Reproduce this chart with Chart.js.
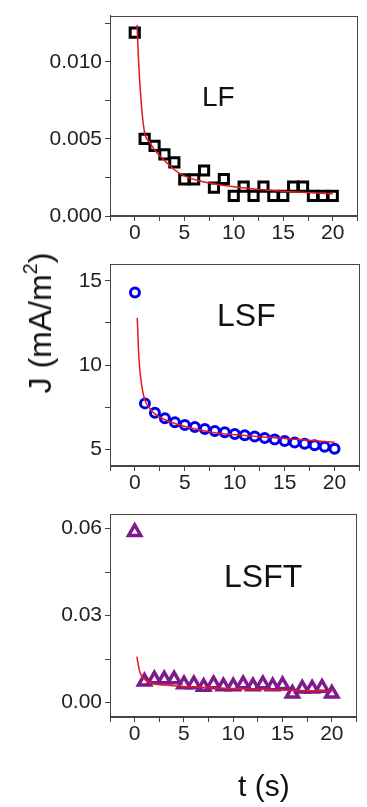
<!DOCTYPE html>
<html>
<head>
<meta charset="utf-8">
<script src="https://cdn.jsdelivr.net/npm/chart.js@4.4.0/dist/chart.umd.min.js"></script>
<style>
  html, body { margin: 0; padding: 0; background: #fff; }
  body { width: 367px; height: 807px; position: relative; overflow: hidden; font-family: "Liberation Sans", Arial, sans-serif; color: #111; }
  canvas { position: absolute; left: 0; }
  .lbl { position: absolute; line-height: 1; white-space: nowrap; }
</style>
</head>
<body>
<canvas id="lf" width="367" height="248" style="top:0"></canvas>
<canvas id="lsf" width="367" height="250" style="top:248px"></canvas>
<canvas id="lsft" width="367" height="309" style="top:498px"></canvas>

<div class="lbl" style="left:202px;top:83px;font-size:28px">LF</div>
<div class="lbl" style="left:217px;top:299px;font-size:32px">LSF</div>
<div class="lbl" style="left:224px;top:560px;font-size:32px">LSFT</div>
<div class="lbl" style="left:38px;top:323px;font-size:32px;transform:translate(-50%,-50%) rotate(-90deg)">J (mA/m<sup style="font-size:20px;vertical-align:14px">2</sup>)</div>
<div class="lbl" style="left:238px;top:771px;font-size:30px">t (s)</div>

<script>
// measurement times (s)
const time = [0, 1, 2, 3, 4, 5, 6, 7, 8, 9, 10, 11, 12, 13, 14, 15, 16, 17, 18, 19, 20];

// current density, mA/m2
const lfJ = [0.0119, 0.0050, 0.00455, 0.0040, 0.00348, 0.00237, 0.00237, 0.00295, 0.00184, 0.0024,
  0.0013, 0.0019, 0.0013, 0.0019, 0.0013, 0.0013, 0.0019, 0.0019, 0.0013, 0.0013, 0.0013];
const lsfJ = [14.31, 7.72, 7.17, 6.83, 6.6, 6.44, 6.32, 6.2, 6.08, 6.0,
  5.9, 5.82, 5.75, 5.66, 5.57, 5.48, 5.4, 5.32, 5.23, 5.15, 5.03];
const lsftJ = [0.0588, 0.0072, 0.008, 0.008, 0.008, 0.0063, 0.0063, 0.0054, 0.0063, 0.0056,
  0.0056, 0.0063, 0.0056, 0.0063, 0.0056, 0.006, 0.0031, 0.0048, 0.0048, 0.0051, 0.0031];

// fitted decay curves (red lines)
const lfFitT = [0.23, 0.4, 0.7, 1, 1.5, 2, 3, 4, 5, 7, 10, 15, 20];
const lfFit = [0.0124, 0.0099, 0.0070, 0.0054, 0.0048, 0.0043, 0.0036, 0.0030, 0.0026, 0.0022, 0.0019, 0.0016, 0.00145];
const lsfFitT = [0.23, 0.4, 0.7, 1, 1.5, 2, 3, 5, 8, 10, 15, 20];
const lsfFit = [12.8, 10.4, 8.7, 7.9, 7.4, 7.1, 6.75, 6.35, 5.98, 5.86, 5.63, 5.41];
const lsftFitT = [0.23, 0.5, 1, 1.5, 2, 3, 5, 10, 15, 20];
const lsftFit = [0.0158, 0.0108, 0.0080, 0.0070, 0.0064, 0.0060, 0.0055, 0.0048, 0.0043, 0.0038];

const pts = (xs, ys) => xs.map((x, i) => ({ x: x, y: ys[i] }));
const onStep = (v, step) => Math.abs(v / step - Math.round(v / step)) < 1e-6;

const AXIS = '#444';
const FONT = { family: 'Liberation Sans, Arial, sans-serif', size: 21 };

// box around the plot area
const framePlugin = {
  id: 'frame',
  afterDraw(chart) {
    const { ctx, chartArea: a } = chart;
    ctx.save();
    ctx.strokeStyle = AXIS;
    ctx.lineWidth = 1;
    ctx.strokeRect(Math.round(a.left) + 0.5, Math.round(a.top) + 0.5,
      Math.round(a.right - a.left) - 1, Math.round(a.bottom - a.top) - 1);
    ctx.restore();
  }
};

function panel(id, marks, fit, mark, y, padTop, xHeight) {
  new Chart(document.getElementById(id), {
    type: 'scatter',
    data: {
      datasets: [
        {
          data: fit,
          showLine: true,
          borderColor: '#e3191f',
          borderWidth: 1.5,
          pointRadius: 0,
          cubicInterpolationMode: 'monotone'
        },
        Object.assign({
          data: marks,
          backgroundColor: 'rgba(0,0,0,0)'
        }, mark)
      ]
    },
    options: {
      responsive: false,
      animation: false,
      layout: { padding: { top: padTop, right: 3, left: 0, bottom: 0 } },
      plugins: { legend: { display: false }, tooltip: { enabled: false } },
      scales: {
        x: {
          type: 'linear', min: -2.5, max: 22.5,
          border: { color: AXIS, width: 1 },
          grid: { drawOnChartArea: false, tickLength: 5, color: AXIS },
          ticks: {
            stepSize: 2.5, includeBounds: false, autoSkip: false, maxRotation: 0,
            padding: 0, color: '#222', font: FONT,
            callback: v => onStep(v, 5) ? String(v) : ''
          },
          afterFit: s => { s.height = xHeight; }
        },
        y: {
          type: 'linear', min: y.min, max: y.max,
          border: { color: AXIS, width: 1 },
          grid: { drawOnChartArea: false, tickLength: 5, color: AXIS },
          ticks: {
            stepSize: y.step, includeBounds: false, autoSkip: false,
            padding: 3, color: '#222', font: FONT,
            callback: v => onStep(v, y.label) ? v.toFixed(y.dec) : ''
          },
          afterFit: s => { s.width = 110; }
        }
      }
    },
    plugins: [framePlugin]
  });
}

panel('lf', pts(time, lfJ), pts(lfFitT, lfFit),
  { pointStyle: 'rect', pointRadius: 6.5, borderWidth: 3, borderColor: '#000' },
  { min: 0, max: 0.013, step: 0.0025, label: 0.005, dec: 3 }, 14, 32);

panel('lsf', pts(time, lsfJ), pts(lsfFitT, lsfFit),
  { pointStyle: 'circle', pointRadius: 4.5, borderWidth: 3, borderColor: '#0000ee' },
  { min: 4, max: 16, step: 2.5, label: 5, dec: 0 }, 16, 32);

panel('lsft', pts(time, lsftJ), pts(lsftFitT, lsftFit),
  { pointStyle: 'triangle', pointRadius: 7, borderWidth: 3.5, borderColor: '#7e1a8c' },
  { min: -0.005, max: 0.065, step: 0.015, label: 0.03, dec: 2 }, 16, 90);
</script>
</body>
</html>
